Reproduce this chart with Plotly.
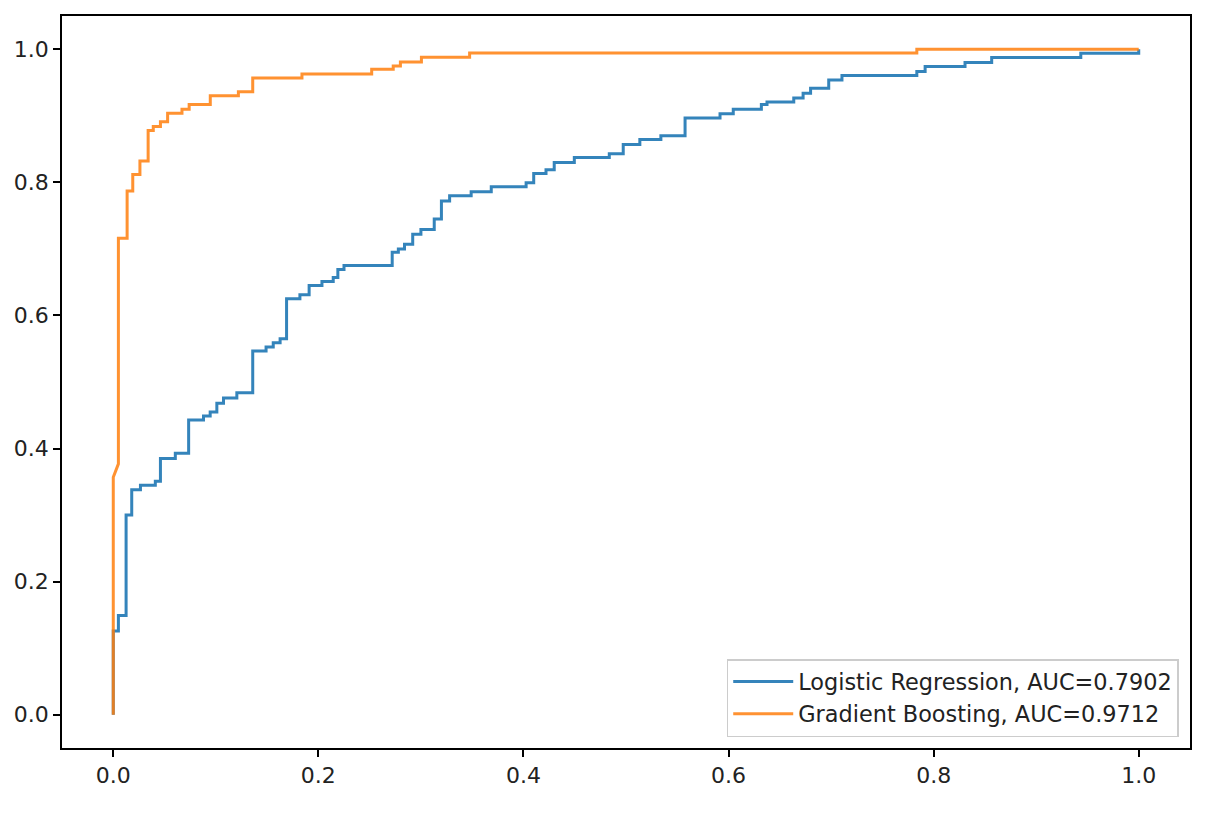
import plotly.graph_objects as go

# ROC curve corners (false positive rate, true positive rate)
lr_fpr = [0, 0, 0.005, 0.005, 0.0125, 0.0125, 0.018, 0.018, 0.0265, 0.0265,
          0.041, 0.041, 0.046, 0.046, 0.0605, 0.0605, 0.0735, 0.0735, 0.088, 0.088,
          0.0945, 0.0945, 0.101, 0.101, 0.1075, 0.1075, 0.1205, 0.1205, 0.136, 0.136,
          0.149, 0.149, 0.156, 0.156, 0.1627, 0.1627, 0.169, 0.169, 0.182, 0.182,
          0.191, 0.191, 0.2035, 0.2035, 0.2145, 0.2145, 0.219, 0.219, 0.225, 0.225,
          0.272, 0.272, 0.278, 0.278, 0.284, 0.284, 0.292, 0.292, 0.300, 0.300,
          0.313, 0.313, 0.320, 0.320, 0.328, 0.328, 0.349, 0.349, 0.3686, 0.3686,
          0.4026, 0.4026, 0.410, 0.410, 0.422, 0.422, 0.430, 0.430, 0.4496, 0.4496,
          0.4837, 0.4837, 0.4973, 0.4973, 0.5135, 0.5135, 0.534, 0.534, 0.5576, 0.5576,
          0.5917, 0.5917, 0.6046, 0.6046, 0.632, 0.632, 0.6375, 0.6375, 0.6636, 0.6636,
          0.6727, 0.6727, 0.680, 0.680, 0.6977, 0.6977, 0.7106, 0.7106, 0.7836, 0.7836,
          0.7917, 0.7917, 0.8306, 0.8306, 0.8566, 0.8566, 0.9435, 0.9435, 1.0, 1.0]
lr_tpr = [0, 0.126, 0.126, 0.149, 0.149, 0.300, 0.300, 0.338, 0.338, 0.345,
          0.345, 0.351, 0.351, 0.385, 0.385, 0.393, 0.393, 0.443, 0.443, 0.449,
          0.449, 0.455, 0.455, 0.468, 0.468, 0.476, 0.476, 0.484, 0.484, 0.5465,
          0.5465, 0.5525, 0.5525, 0.559, 0.559, 0.565, 0.565, 0.625, 0.625, 0.631,
          0.631, 0.645, 0.645, 0.651, 0.651, 0.657, 0.657, 0.669, 0.669, 0.675,
          0.675, 0.695, 0.695, 0.700, 0.700, 0.707, 0.707, 0.722, 0.722, 0.729,
          0.729, 0.745, 0.745, 0.772, 0.772, 0.780, 0.780, 0.786, 0.786, 0.7935,
          0.7935, 0.7994, 0.7994, 0.8134, 0.8134, 0.819, 0.819, 0.830, 0.830, 0.8375,
          0.8375, 0.843, 0.843, 0.857, 0.857, 0.8645, 0.8645, 0.870, 0.870, 0.8967,
          0.8967, 0.903, 0.903, 0.910, 0.910, 0.917, 0.917, 0.9207, 0.9207, 0.9266,
          0.9266, 0.934, 0.934, 0.9416, 0.9416, 0.954, 0.954, 0.9606, 0.9606, 0.9666,
          0.9666, 0.974, 0.974, 0.980, 0.980, 0.9875, 0.9875, 0.994, 0.994, 1.0]

gb_fpr = [0, 0, 0.005, 0.005, 0.0135, 0.0135, 0.019, 0.019, 0.026, 0.026,
          0.034, 0.034, 0.039, 0.039, 0.046, 0.046, 0.053, 0.053, 0.067, 0.067,
          0.074, 0.074, 0.0946, 0.0946, 0.122, 0.122, 0.136, 0.136, 0.184, 0.184,
          0.252, 0.252, 0.273, 0.273, 0.280, 0.280, 0.3005, 0.3005, 0.3475, 0.3475,
          0.7836, 0.7836, 1.0]
gb_tpr = [0, 0.357, 0.377, 0.716, 0.716, 0.787, 0.787, 0.812, 0.812, 0.832,
          0.832, 0.878, 0.878, 0.884, 0.884, 0.891, 0.891, 0.904, 0.904, 0.910,
          0.910, 0.917, 0.917, 0.930, 0.930, 0.936, 0.936, 0.957, 0.957, 0.963,
          0.963, 0.970, 0.970, 0.975, 0.975, 0.981, 0.981, 0.988, 0.988, 0.9945,
          0.9945, 1.0, 1.0]

lr_auc = 0.7902
gb_auc = 0.9712

FONT = "DejaVu Sans"
FONT_SIZE = 22

fig = go.Figure()
fig.add_trace(go.Scatter(
    x=lr_fpr, y=lr_tpr, mode="lines",
    name=f"Logistic Regression, AUC={lr_auc}",
    line=dict(color="#1f77b4", width=3),
    opacity=0.9,
))
fig.add_trace(go.Scatter(
    x=gb_fpr, y=gb_tpr, mode="lines",
    name=f"Gradient Boosting, AUC={gb_auc}",
    line=dict(color="#ff7f0e", width=3),
    opacity=0.85,
))

axis_style = dict(
    range=[-0.05, 1.05],
    showgrid=False,
    zeroline=False,
    showline=True,
    mirror=True,
    linecolor="black",
    linewidth=1.7,
    ticks="outside",
    ticklen=7,
    tickwidth=1.7,
    tickcolor="black",
    tickvals=[0, 0.2, 0.4, 0.6, 0.8, 1.0],
    tickformat=".1f",
    tickfont=dict(family=FONT, size=FONT_SIZE, color="#222222"),
)

# page body has an 8px margin, so the figure is a bit smaller than the window
fig.update_layout(
    width=1192,
    height=803,
    margin=dict(l=54, r=10, t=6, b=63),
    plot_bgcolor="white",
    paper_bgcolor="white",
    font=dict(family=FONT, size=FONT_SIZE, color="#222222"),
    xaxis=axis_style,
    yaxis=axis_style,
    legend=dict(
        x=0.990, y=0.015,
        xanchor="right", yanchor="bottom",
        bgcolor="rgba(255,255,255,0.8)",
        bordercolor="#cccccc",
        borderwidth=1.5,
        itemwidth=60,
        font=dict(family=FONT, size=22.4, color="#222222"),
    ),
)

fig.write_html("out.html")
